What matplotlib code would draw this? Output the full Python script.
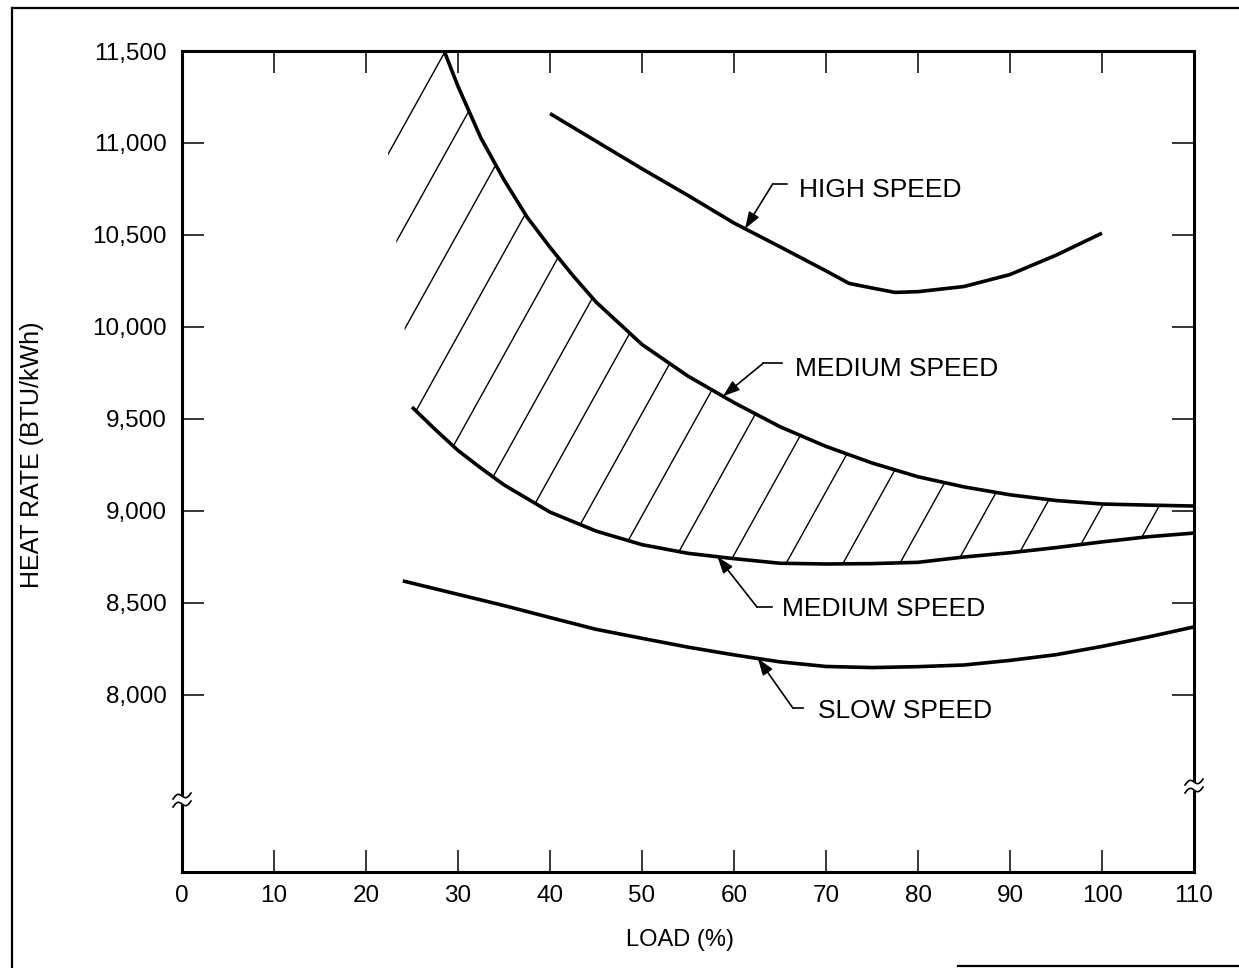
import numpy as np
import matplotlib
matplotlib.use("Agg")
from matplotlib import pyplot as plt
from matplotlib.patches import Polygon
from matplotlib.lines import Line2D

plt.rcParams['font.family'] = ['Liberation Sans', 'DejaVu Sans']

# values: load in %, heat rate in BTU/kWh
high_load = [40, 45, 50, 55, 60, 65, 70, 72.5, 75, 77.5, 80, 85, 90, 95, 100]
high_hr = [11160, 11010, 10860, 10715, 10565, 10436, 10305, 10237, 10212,
           10188, 10192, 10220, 10285, 10390, 10510]

med_up_load = [28.5, 30, 32.5, 35, 37.5, 40, 42.5, 45, 50, 55, 60, 65, 70,
               75, 80, 85, 90, 95, 100, 105, 110]
med_up_hr = [11500, 11308, 11026, 10800, 10598, 10433, 10279, 10136, 9905,
             9733, 9589, 9458, 9351, 9261, 9186, 9131, 9088, 9057, 9038,
             9032, 9027]

med_low_load = [25, 27.5, 30, 32.5, 35, 40, 45, 50, 55, 60, 65, 70, 75, 80,
                85, 90, 95, 100, 105, 110]
med_low_hr = [9565, 9444, 9329, 9233, 9142, 8994, 8891, 8817, 8770, 8741,
              8716, 8712, 8714, 8721, 8750, 8773, 8801, 8832, 8860, 8880]

slow_load = [24, 30, 35, 40, 45, 50, 55, 60, 65, 70, 75, 80, 85, 90, 95, 100,
             105, 110]
slow_hr = [8620, 8547, 8486, 8421, 8357, 8308, 8260, 8218, 8180, 8155, 8149,
           8154, 8163, 8188, 8219, 8264, 8315, 8370]

x_ticks = [0, 10, 20, 30, 40, 50, 60, 70, 80, 90, 100, 110]
y_ticks = [8000, 8500, 9000, 9500, 10000, 10500, 11000, 11500]
y_labels = ["8,000", "8,500", "9,000", "9,500", "10,000", "10,500",
            "11,000", "11,500"]

W, H = 1239, 968
AX_L, AX_R, AX_T, AX_B = 182, 1194, 51, 872


def break_mark(ax, xa, ya):
    t = np.linspace(-1, 1, 40)
    xs = xa + 9 * t / (AX_R - AX_L)
    lo = ya + (-4 + 3 * t - 3 * np.sin(np.pi * t)) / (AX_B - AX_T)
    hi = ya + (4 + 3 * t - 3 * np.sin(np.pi * t)) / (AX_B - AX_T)
    ax.fill(np.concatenate([xs, xs[::-1]]), np.concatenate([lo, hi[::-1]]),
            color="white", transform=ax.transAxes, clip_on=False, zorder=4)
    for ys in (lo, hi):
        ax.plot(xs, ys, color="black", lw=1.2, transform=ax.transAxes,
                clip_on=False, zorder=5)


def leader(ax, text, load, curve_load, curve_hr, bend, end, pos):
    tip = (load, np.interp(load, curve_load, curve_hr))
    ax.annotate("", xy=tip, xytext=bend,
                arrowprops=dict(arrowstyle="-|>,head_length=1.0,head_width=0.35",
                                color="black", lw=1.2, shrinkA=0, shrinkB=0))
    ax.plot([bend[0], end[0]], [bend[1], end[1]], color="black", lw=1.2)
    ax.text(pos[0], pos[1], text, fontsize=19, ha="left", va="center")


def main():
    fig = plt.figure(figsize=(W / 100, H / 100), dpi=100)
    ax = fig.add_axes([AX_L / W, 1 - AX_B / H, (AX_R - AX_L) / W,
                       (AX_B - AX_T) / H])
    ax.set_xlim(0, 110)
    ax.set_ylim(7038, 11500)

    lw = 2.6
    ax.plot(high_load, high_hr, color="black", lw=lw, solid_capstyle="butt")
    ax.plot(med_up_load, med_up_hr, color="black", lw=lw, solid_capstyle="butt")
    ax.plot(med_low_load, med_low_hr, color="black", lw=lw,
            solid_capstyle="butt")
    ax.plot(slow_load, slow_hr, color="black", lw=lw, solid_capstyle="butt")

    # hatched band between the two medium speed curves
    verts = [(22.3, 11000)] + list(zip(med_up_load, med_up_hr)) + \
        list(zip(med_low_load[::-1], med_low_hr[::-1]))
    region = Polygon(verts, closed=True, facecolor="none", edgecolor="none")
    ax.add_patch(region)
    lx = np.array([0, 115])
    for k in range(-4, 14):
        l0 = 25.57 + 6.18 * k
        line, = ax.plot(lx, 9000 + 90 * (lx - l0), color="black", lw=1.0)
        line.set_clip_path(region)

    leader(ax, "HIGH SPEED", 61.2, high_load, high_hr,
           (64.2, 10777), (65.8, 10777), (67.1, 10744))
    leader(ax, "MEDIUM SPEED", 58.8, med_up_load, med_up_hr,
           (63.2, 9804), (65.2, 9804), (66.6, 9774))
    leader(ax, "MEDIUM SPEED", 58.2, med_low_load, med_low_hr,
           (62.5, 8478), (64.1, 8478), (65.2, 8467))
    leader(ax, "SLOW SPEED", 62.6, slow_load, slow_hr,
           (66.4, 7929), (67.5, 7929), (69.1, 7913))

    ax.set_xticks(x_ticks)
    ax.set_xticklabels([str(v) for v in x_ticks])
    ax.set_yticks(y_ticks)
    ax.set_yticklabels(y_labels)
    ax.tick_params(direction="in", length=16, width=1.1, top=True, right=True,
                   labelsize=17.5, color="black")
    ax.tick_params(axis="y", pad=11)
    ax.tick_params(axis="x", pad=9)
    for s in ax.spines.values():
        s.set_linewidth(2.2)

    break_mark(ax, 0.0, (AX_B - 800) / (AX_B - AX_T))
    break_mark(ax, 1.0, (AX_B - 786) / (AX_B - AX_T))

    fig.text(680 / W, 1 - 940 / H, "LOAD (%)", fontsize=17, ha="center",
             va="center")
    fig.text(32 / W, 1 - 455 / H, "HEAT RATE (BTU/kWh)", fontsize=18,
             ha="center", va="center", rotation=90)

    # page frame
    fig.add_artist(Line2D([12 / W, 12 / W], [0, 1 - 8 / H], color="black",
                          lw=1.6, transform=fig.transFigure))
    fig.add_artist(Line2D([12 / W, 1], [1 - 8 / H, 1 - 8 / H], color="black",
                          lw=1.6, transform=fig.transFigure))
    fig.add_artist(Line2D([958 / W, 1], [1 - 966 / H, 1 - 966 / H],
                          color="black", lw=1.6, transform=fig.transFigure))

    fig.savefig("out.png", dpi=100)
    plt.close(fig)


if __name__ == "__main__":
    main()
